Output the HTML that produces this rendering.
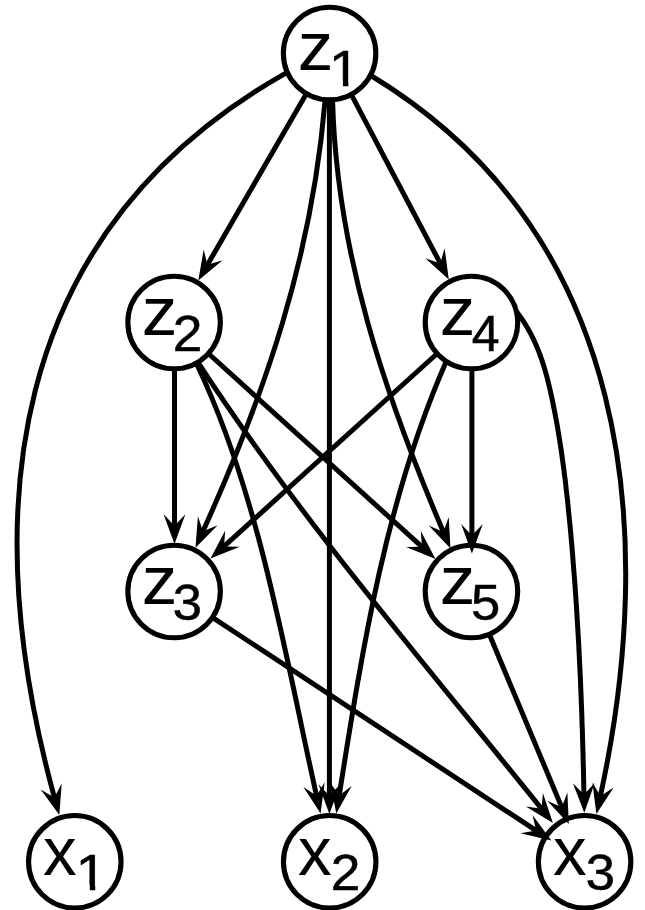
<!DOCTYPE html>
<html><head><meta charset="utf-8"><title>graph</title>
<style>html,body{margin:0;padding:0;background:#fff}svg{display:block}</style>
</head><body>
<svg width="645" height="910" viewBox="0 0 645 910">
<rect width="645" height="910" fill="#fff"/>
<g fill="none" stroke="#000" stroke-width="5.0" stroke-linejoin="round">
<path d="M306.5 93.5L206.7 266.1"/>
<path d="M351.2 94.4L441.0 264.7"/>
<path d="M329.4 99.7L329.4 797.3"/>
<path d="M174.5 368.8L174.5 527.2"/>
<path d="M471.9 368.8L471.9 536.9"/>
<path d="M208.4 353.5L423.1 547.8"/>
<path d="M437.2 353.5L222.9 547.4"/>
<path d="M212.7 617.6L537.3 831.4"/>
<path d="M489.3 634.2L562.3 808.6"/>
<path d="M287.3 72.3L285.0 73.6C4.1 233.1 -22.9 515.7 54.8 799.0"/>
<path d="M325.1 99.5L325.0 101.0C312.1 256.6 265.6 392.5 202.3 532.8"/>
<path d="M332.6 99.7L332.6 101.0C336.7 253.2 384.8 394.4 443.7 532.7"/>
<path d="M370.4 75.2L371.7 76.0C631.4 233.9 658.5 531.4 599.8 798.7"/>
<path d="M196.2 363.1L198.1 367.0C259.8 497.4 285.3 656.0 316.9 797.3"/>
<path d="M197.9 362.2L199.8 365.1C300.3 519.2 427.0 666.1 542.6 810.1"/>
<path d="M446.3 361.3L446.0 362.0C385.7 499.6 362.4 649.0 339.0 796.6"/>
<path d="M516.3 311.3L519.0 315.0L522.0 319.2L524.8 323.4L527.4 327.8L529.9 332.2L532.2 336.6L534.4 341.2L536.4 345.8L538.3 350.4L540.1 355.1L541.8 359.8L543.3 364.6L544.8 369.4L546.2 374.3L547.5 379.2L548.7 384.1L549.9 389.0L551.0 394.0L552.1 398.9L553.1 403.9L554.1 408.9L555.1 413.9L556.0 418.9L556.9 423.8L557.8 428.8L558.6 433.9L559.4 438.9L560.2 443.9L561.0 448.9L561.7 453.9L562.4 459.0L563.1 464.0L563.8 469.0L564.4 474.1L565.1 479.1L565.7 484.2L566.2 489.2L566.8 494.3L567.4 499.3L567.9 504.4L568.4 509.4L568.9 514.5L569.4 519.5L569.9 524.6L570.4 529.6L570.9 534.7L571.3 539.8L571.8 544.8L572.2 549.9L572.6 554.9L573.0 560.0L573.4 565.0L573.8 570.1L574.2 575.1L574.6 580.2L575.0 585.3L575.3 590.3L575.7 595.4L576.0 600.4L576.4 605.5L576.7 610.5L577.0 615.6L577.3 620.6L577.6 625.7L577.9 630.7L578.2 635.8L578.5 640.9L578.8 645.9L579.0 651.0L579.3 656.0L579.5 661.1L579.8 666.2L580.0 671.2L580.3 676.3L580.5 681.3L580.7 686.4L580.9 691.5L581.1 696.5L581.3 701.6L581.5 706.6L581.7 711.7L581.9 716.8L582.0 721.8L582.2 726.9L582.4 732.0L582.5 737.0L582.7 742.1L582.8 747.2L583.0 752.2L583.1 757.3L583.2 762.4L583.4 767.5L583.5 772.5L583.6 777.6L583.7 782.7L583.8 787.8L583.9 792.8L584.0 795.4"/>
</g>
<g fill="none" stroke="#000" stroke-width="5.1">
<circle cx="329.6" cy="53.5" r="46.25"/>
<circle cx="174.1" cy="322.5" r="46.25"/>
<circle cx="471.45" cy="322.5" r="46.25"/>
<circle cx="174.1" cy="591.5" r="46.25"/>
<circle cx="471.45" cy="591.5" r="46.25"/>
<circle cx="74.8" cy="861.8" r="46.25"/>
<circle cx="329.7" cy="861.8" r="46.25"/>
<circle cx="584.6" cy="861.8" r="46.25"/>
</g>
<g fill="#000" stroke="none">
<path d="M198.3 280.6 L203.7 249.4 L207.4 264.8 L222.6 260.3 Z"/>
<path d="M448.8 279.5 L425.3 258.3 L440.3 263.4 L444.6 248.2 Z"/>
<path d="M329.4 814.0 L318.5 784.3 L329.4 795.8 L340.3 784.3 Z"/>
<path d="M174.5 543.9 L163.6 514.2 L174.5 525.7 L185.4 514.2 Z"/>
<path d="M471.9 553.6 L461.1 523.9 L471.9 535.4 L482.8 523.9 Z"/>
<path d="M435.5 559.0 L406.1 547.1 L422.0 546.8 L420.8 531.0 Z"/>
<path d="M210.5 558.6 L225.2 530.6 L224.0 546.4 L239.8 546.7 Z"/>
<path d="M551.3 840.6 L520.5 833.3 L536.1 830.5 L532.5 815.1 Z"/>
<path d="M568.8 824.0 L547.2 800.8 L561.7 807.2 L567.4 792.4 Z"/>
<path d="M59.3 815.1 L40.7 789.5 L54.3 797.6 L61.7 783.5 Z"/>
<path d="M195.5 547.8 L197.9 516.2 L203.0 531.2 L217.7 525.3 Z"/>
<path d="M450.5 548.6 L428.7 525.6 L443.3 531.9 L448.7 517.0 Z"/>
<path d="M596.4 813.9 L592.4 782.5 L600.5 796.1 L613.7 787.4 Z"/>
<path d="M320.6 813.6 L303.4 787.0 L316.6 795.8 L324.7 782.2 Z"/>
<path d="M552.9 823.0 L525.9 806.6 L541.6 808.8 L542.9 793.0 Z"/>
<path d="M336.3 813.6 L330.2 782.5 L339.1 795.6 L351.7 786.0 Z"/>
<path d="M584.3 812.8 L572.9 783.3 L584.0 794.6 L594.7 782.9 Z"/>
</g>
<defs><clipPath id="c1"><path d="M0 -45H17.30V2H12.53V-5.00H0Z"/></clipPath></defs>
<g fill="#000" stroke="#000" stroke-width="0.5" font-family="'Liberation Sans', sans-serif">
<text transform="translate(297.68 70.45) scale(1.032 1)" font-size="69.0" stroke-width="0">z</text>
<g transform="translate(328.63 85.50) scale(1.14 1)"><text font-size="50.0" clip-path="url(#c1)">1</text></g>
<text transform="translate(141.68 335.45) scale(1.032 1)" font-size="69.0" stroke-width="0">z</text>
<g transform="translate(172.74 350.80) scale(1.065 1)"><text font-size="50.0">2</text></g>
<text transform="translate(439.68 335.45) scale(1.032 1)" font-size="69.0" stroke-width="0">z</text>
<g transform="translate(471.85 350.80) scale(1.0 1)"><text font-size="50.0">4</text></g>
<text transform="translate(141.68 604.45) scale(1.032 1)" font-size="69.0" stroke-width="0">z</text>
<g transform="translate(172.70 620.00) scale(1.05 1)"><text font-size="50.0">3</text></g>
<text transform="translate(439.68 604.45) scale(1.032 1)" font-size="69.0" stroke-width="0">z</text>
<g transform="translate(470.90 620.00) scale(1.05 1)"><text font-size="50.0">5</text></g>
<text transform="translate(42.89 874.75) scale(0.976 1)" font-size="69.0" stroke-width="0">x</text>
<g transform="translate(75.53 889.70) scale(1.14 1)"><text font-size="50.0" clip-path="url(#c1)">1</text></g>
<text transform="translate(297.89 874.75) scale(0.976 1)" font-size="69.0" stroke-width="0">x</text>
<g transform="translate(330.64 889.70) scale(1.065 1)"><text font-size="50.0">2</text></g>
<text transform="translate(552.89 874.75) scale(0.976 1)" font-size="69.0" stroke-width="0">x</text>
<g transform="translate(585.71 889.90) scale(1.05 1)"><text font-size="50.0">3</text></g>
</g>
</svg>
</body></html>
